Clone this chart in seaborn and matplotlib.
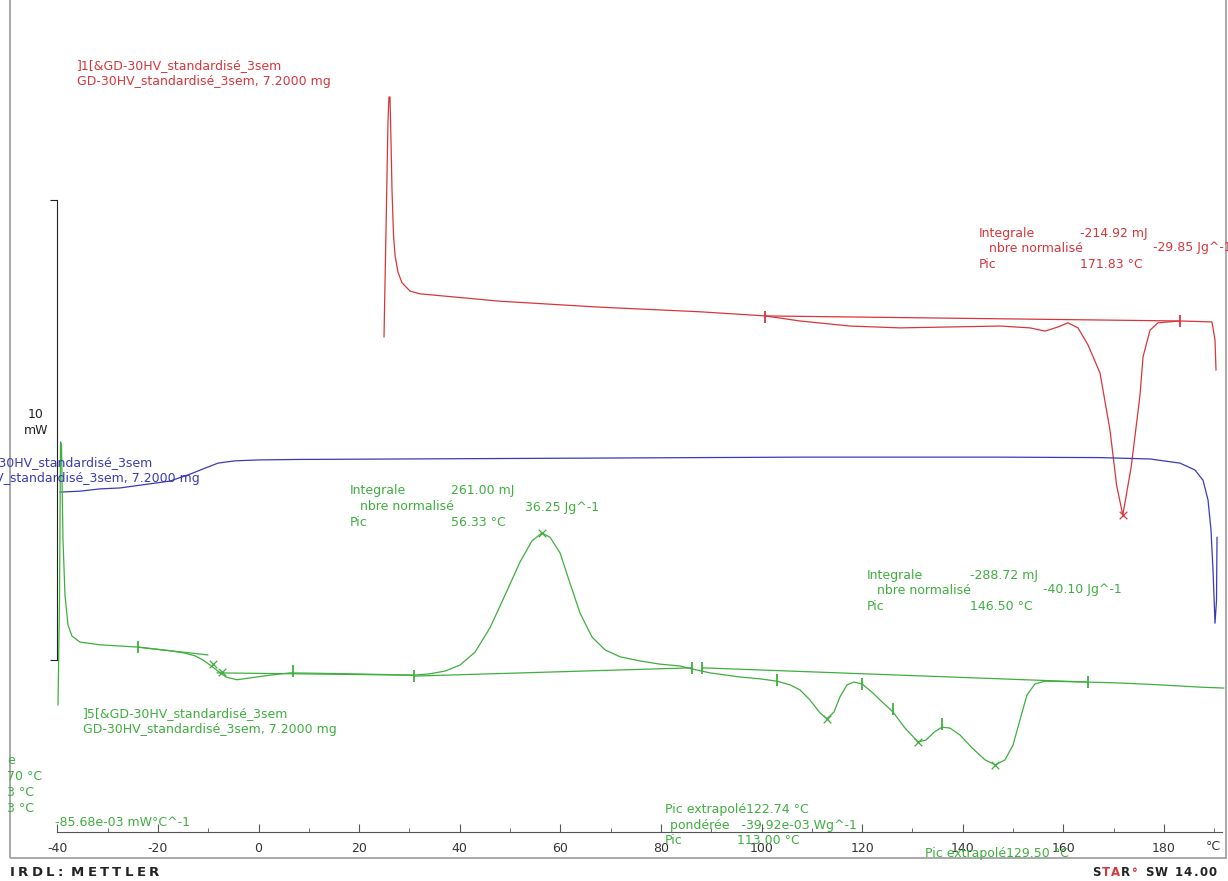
import numpy as np
import pandas as pd
import matplotlib
import seaborn as sns
from matplotlib.patches import Rectangle
from matplotlib.ticker import FixedLocator

matplotlib.use('Agg')
import matplotlib.pyplot as plt

# DSC curves: temperature in degC, heat flow in mW
red_T = [24.95, 25.35, 25.75, 25.94, 26.14, 26.34, 26.54, 26.84, 27.14, 27.73, 28.53, 30.12,
         32.11, 48.01, 67.89, 87.77, 100.70, 107.65, 117.59, 127.53, 137.48, 147.42, 153.38,
         156.36, 158.95, 160.93, 162.92, 164.91, 167.30, 169.28, 170.60, 171.83, 173.50,
         175.25, 175.85, 177.24, 178.83, 183.20, 189.56, 190.16, 190.36]
red_mW = [7.02, 9.35, 11.74, 12.24, 12.24, 11.30, 10.22, 9.24, 8.80, 8.43, 8.20, 8.02,
          7.96, 7.80, 7.67, 7.57, 7.48, 7.37, 7.26, 7.22, 7.24, 7.26, 7.22,
          7.15, 7.24, 7.33, 7.22, 6.85, 6.24, 5.00, 3.80, 3.15, 4.20,
          5.76, 6.59, 7.17, 7.33, 7.37, 7.35, 6.96, 6.30]

blue_T = [-39.46, -35.49, -31.51, -27.53, -21.57, -17.59, -13.62, -10.64, -8.05, -4.67, 0.30,
          8.25, 28.13, 48.01, 67.89, 87.77, 107.65, 147.42, 167.30, 177.24, 183.20, 186.18,
          187.77, 188.77, 189.36, 189.76, 190.16, 190.46, 190.56]
blue_mW = [3.65, 3.67, 3.72, 3.74, 3.83, 3.89, 4.04, 4.17, 4.28, 4.33, 4.35,
           4.36, 4.37, 4.38, 4.39, 4.40, 4.41, 4.41, 4.40, 4.37, 4.28, 4.13,
           3.91, 3.48, 2.83, 1.96, 0.80, 1.30, 2.67]

green_T = [-39.86, -39.56, -39.36, -39.17, -38.87, -38.47, -37.87, -37.08, -35.49, -31.51,
           -23.96, -17.59, -14.61, -12.62, -11.03, -9.64, -8.05, -6.46, -4.27, -1.69, 2.29,
           6.26, 18.19, 30.91, 34.10, 37.08, 40.06, 43.04, 46.02, 49.01, 51.99, 54.37, 56.33,
           57.95, 59.94, 61.93, 63.92, 66.30, 68.89, 71.87, 75.84, 79.82, 83.80, 86.38, 89.76,
           95.73, 99.70, 103.08, 105.67, 107.65, 109.64, 111.63, 113.00, 114.41, 115.61,
           117.00, 118.39, 119.98, 121.97, 123.96, 126.14, 128.53, 131.11, 132.70, 134.29,
           135.88, 137.48, 139.46, 141.85, 144.43, 146.50, 148.41, 150.00, 151.39, 152.78,
           154.37, 156.36, 164.91, 171.27, 179.22, 187.18, 191.95]
green_mW = [-0.98, 1.30, 4.74, 4.67, 2.61, 1.41, 0.76, 0.52, 0.39, 0.33,
            0.28, 0.20, 0.15, 0.09, 0.00, -0.11, -0.24, -0.37, -0.43, -0.39, -0.33,
            -0.28, -0.30, -0.33, -0.30, -0.24, -0.11, 0.17, 0.70, 1.41, 2.13, 2.59, 2.76,
            2.67, 2.33, 1.67, 1.02, 0.50, 0.22, 0.07, -0.02, -0.09, -0.13, -0.20, -0.28,
            -0.37, -0.41, -0.46, -0.54, -0.65, -0.87, -1.15, -1.28, -1.13, -0.80,
            -0.54, -0.48, -0.52, -0.70, -0.91, -1.13, -1.48, -1.78, -1.74, -1.57,
            -1.46, -1.48, -1.63, -1.91, -2.17, -2.28, -2.17, -1.85, -1.30, -0.76,
            -0.52, -0.46, -0.48, -0.50, -0.54, -0.59, -0.61]

# integration baselines / tangents (start, end)
red_base_T, red_base_mW = [100.70, 183.20], [7.48, 7.37]
green_lines = [([-23.96, -10.04], [0.28, 0.11]),
               ([-8.25, 30.91], [-0.28, -0.33]),
               ([30.91, 86.18], [-0.35, -0.17]),
               ([88.17, 164.91], [-0.17, -0.48])]

# evaluation marks
green_peak_T = [-9.05, -7.26, 56.33, 113.00, 131.11, 146.50]
green_peak_mW = [-0.09, -0.26, 2.76, -1.28, -1.78, -2.28]
red_peak_T, red_peak_mW = [171.83], [3.15]
green_flag_T = [-23.96, 6.86, 30.91, 86.18, 88.17, 103.08, 119.98, 126.14, 135.88, 164.91]
green_flag_mW = [0.28, -0.24, -0.35, -0.17, -0.17, -0.43, -0.52, -1.07, -1.39, -0.48]
red_flag_T, red_flag_mW = [100.70, 183.20], [7.46, 7.37]

x_ticks = list(range(-40, 181, 20))
x_minor = list(range(-30, 191, 10))

RED, BLUE, GREEN = '#d8363a', '#3a3ab8', '#3fae3f'
DARK = '#222222'

sns.set_style('white')
plt.rcParams['font.family'] = ['DejaVu Sans']
plt.rcParams['axes.unicode_minus'] = False

W, H = 1228, 881
fig = plt.figure(figsize=(W / 100, H / 100), dpi=100)
ax = fig.add_axes([0, 0, 1, 1])
ax.patch.set_alpha(0)

# pixel -> data mapping of the original: x = 258.5 + 5.03*T, y = 660 - 46*mW
ax.set_xlim((0 - 258.5) / 5.03, (W - 258.5) / 5.03)
ax.set_ylim((660 - H) / 46, 660 / 46)

curves = pd.concat([
    pd.DataFrame({'T': red_T, 'mW': red_mW, 'run': 'red'}),
    pd.DataFrame({'T': blue_T, 'mW': blue_mW, 'run': 'blue'}),
    pd.DataFrame({'T': green_T, 'mW': green_mW, 'run': 'green'}),
])
for run, col in [('red', RED), ('blue', BLUE), ('green', GREEN)]:
    d = curves[curves['run'] == run]
    sns.lineplot(data=d, x='T', y='mW', sort=False, estimator=None, color=col, lw=0.9, ax=ax)

sns.lineplot(x=red_base_T, y=red_base_mW, color=RED, lw=0.9, ax=ax)
for lt, lm in green_lines:
    sns.lineplot(x=lt, y=lm, color=GREEN, lw=0.9, ax=ax)

sns.scatterplot(x=green_peak_T, y=green_peak_mW, marker='x', color=GREEN, s=30, linewidth=0.9, ax=ax)
sns.scatterplot(x=red_peak_T, y=red_peak_mW, marker='x', color=RED, s=30, linewidth=0.9, ax=ax)
ax.plot(green_flag_T, green_flag_mW, ls='none', marker='|', ms=8, mew=1.3, color=GREEN)
ax.plot(red_flag_T, red_flag_mW, ls='none', marker='|', ms=8, mew=1.3, color=RED)

# axes in the STARe style
for s in ['top', 'right']:
    ax.spines[s].set_visible(False)
ax.spines['bottom'].set_position(('data', (660 - 832) / 46))
ax.spines['bottom'].set_bounds(-40, (1222 - 258.5) / 5.03)
ax.spines['bottom'].set_color('#555555')
ax.spines['left'].set_position(('data', -40))
ax.spines['left'].set_bounds(0, 10)
ax.spines['left'].set_color(DARK)
ax.xaxis.set_major_locator(FixedLocator(x_ticks))
ax.xaxis.set_minor_locator(FixedLocator(x_minor))
ax.tick_params(axis='x', which='major', direction='in', length=6, color='#555555',
               labelsize=9, labelcolor='#333333', pad=7, bottom=True)
ax.tick_params(axis='x', which='minor', direction='in', length=3, color='#555555', bottom=True)
ax.set_yticks([0, 10])
ax.tick_params(axis='y', direction='out', length=5, color=DARK, labelleft=False, left=True)
ax.set_xlabel('')
ax.set_ylabel('')

# outer frame
fig.patches.append(Rectangle((10 / W, 1 - 858 / H), 1216 / W, 858 / H + 0.05,
                             transform=fig.transFigure, fill=False, ec='#9a9a9a', lw=1.2))


def put(x, y, s, color, size=9, **kw):
    return fig.text(x / W, 1 - y / H, s, color=color, fontsize=size, va='center', ha='left', **kw)


def spaced(x, y, chars, colors, size, gap, space):
    # letter-spaced text, drawn glyph by glyph
    renderer = fig.canvas.get_renderer()
    cur = x
    for ch, col in zip(chars, colors):
        if ch == ' ':
            cur += space
            continue
        t = put(cur, y, ch, col, size=size, fontweight='bold')
        cur = t.get_window_extent(renderer).x1 + gap


put(1206, 847, '°C', '#333333')
put(28, 415, '10', DARK)
put(24, 431, 'mW', DARK)

# red annotations
put(77, 66, ']1[&GD-30HV_standardisé_3sem', RED)
put(77, 81, 'GD-30HV_standardisé_3sem, 7.2000 mg', RED)
put(979, 233, 'Integrale', RED)
put(1080, 233, '-214.92 mJ', RED)
put(989, 248, 'nbre normalisé', RED)
put(1153, 248, '-29.85 Jg^-1', RED)
put(979, 264, 'Pic', RED)
put(1080, 264, '171.83 °C', RED)

# blue annotations (cut by the left edge)
put(-52, 463, ']3[&GD-30HV_standardisé_3sem', BLUE)
put(-54, 479, 'GD-30HV_standardisé_3sem, 7.2000 mg', BLUE)

# green annotations
put(350, 491, 'Integrale', GREEN)
put(451, 491, '261.00 mJ', GREEN)
put(360, 507, 'nbre normalisé', GREEN)
put(525, 507, '36.25 Jg^-1', GREEN)
put(350, 522, 'Pic', GREEN)
put(451, 522, '56.33 °C', GREEN)

put(867, 575, 'Integrale', GREEN)
put(970, 575, '-288.72 mJ', GREEN)
put(877, 590, 'nbre normalisé', GREEN)
put(1043, 590, '-40.10 Jg^-1', GREEN)
put(867, 606, 'Pic', GREEN)
put(970, 606, '146.50 °C', GREEN)

put(83, 714, ']5[&GD-30HV_standardisé_3sem', GREEN)
put(83, 730, 'GD-30HV_standardisé_3sem, 7.2000 mg', GREEN)
put(7, 760, 'e', GREEN)
put(7, 776, '70 °C', GREEN)
put(3, 792, ' 3 °C', GREEN)
put(3, 808, ' 3 °C', GREEN)
put(55, 822, '-85.68e-03 mW°C^-1', GREEN)

put(665, 809, 'Pic extrapolé122.74 °C', GREEN)
put(670, 825, 'pondérée   -39.92e-03 Wg^-1', GREEN)
put(665, 840, 'Pic', GREEN)
put(737, 840, '113.00 °C', GREEN)
put(925, 853, 'Pic extrapolé129.50 °C', GREEN)

# footer
spaced(10, 873, 'IRDL: METTLER', [DARK] * 13, size=9.5, gap=3.2, space=5)
star_chars = 'STAR° SW 14.00'
star_cols = [DARK, RED, RED, DARK, RED] + [DARK] * 9
spaced(1092, 873, star_chars, star_cols, size=8.5, gap=1.2, space=6)

fig.savefig('out.png', dpi=100)
